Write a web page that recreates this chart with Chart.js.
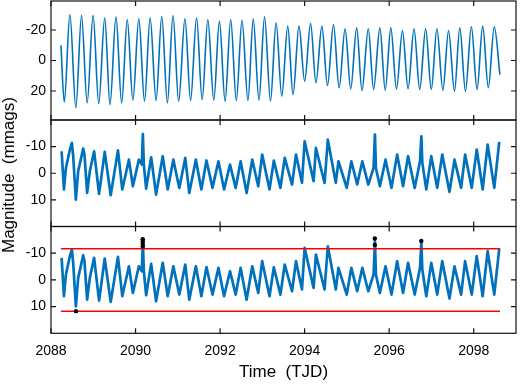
<!DOCTYPE html>
<html><head><meta charset="utf-8">
<script src="https://cdn.jsdelivr.net/npm/chart.js@4"></script>
<style>
html,body{margin:0;padding:0;background:#fff;}
#wrap{position:relative;width:520px;height:385px;overflow:hidden;background:#fff;}
canvas{position:absolute;left:0;top:0;}
#ylab{position:absolute;left:9px;top:175px;transform:translate(-50%,-50%) rotate(-90deg);font:17px "Liberation Sans",Arial,sans-serif;white-space:pre;color:#000;}
</style></head><body>
<div id="wrap">
<canvas id="c1" width="520" height="385"></canvas>
<canvas id="c2" width="520" height="385"></canvas>
<canvas id="c3" width="520" height="385"></canvas>
<div id="ylab">Magnitude  (mmags)</div>
</div>
<script>
// ---- data ----
const xRange = [2088, 2099];
const xTicks = [2088, 2090, 2092, 2094, 2096, 2098];

const rawYRange = [-39, 39];
const rawYTicks = [-20, 0, 20];
const detYRange = [-20, 20];
const detYTicks = [-10, 0, 10];

// panel 1: raw light curve (extremes of each cycle)
const rawTime = [2088.235,2088.314,2088.447,2088.588,2088.722,2088.855,2088.996,2089.129,2089.271,2089.396,2089.537,2089.671,2089.804,2089.937,2090.078,2090.212,2090.345,2090.486,2090.620,2090.753,2090.886,2091.020,2091.169,2091.302,2091.443,2091.576,2091.710,2091.851,2091.984,2092.118,2092.251,2092.384,2092.518,2092.659,2092.784,2092.920,2093.051,2093.192,2093.325,2093.459,2093.600,2093.725,2093.867,2094.000,2094.141,2094.267,2094.408,2094.541,2094.682,2094.816,2094.957,2095.090,2095.231,2095.357,2095.506,2095.631,2095.780,2095.906,2096.039,2096.173,2096.314,2096.447,2096.588,2096.722,2096.863,2096.996,2097.129,2097.271,2097.404,2097.545,2097.671,2097.804,2097.945,2098.078,2098.212,2098.345,2098.486,2098.620];
const rawMag = [-10,27.3,-30.2,31,-29.7,27.8,-29.7,28.2,-28,28.9,-28.6,27.8,-26.9,26,-27.5,26.7,-28,26.2,-29,27.8,-29.5,26.7,-27.5,26.2,-28,25.6,-26.9,26,-25.8,26.7,-26.9,26.2,-26.4,26.2,-27.3,26,-28.6,26.7,-24.7,23.4,-22.5,22.3,-22.5,13.6,-24.3,14.6,-22.5,16.4,-23.6,17.9,-20.8,18.6,-21.4,19.7,-20.8,19,-21.4,19.5,-21.4,18.6,-19.7,18.6,-20.8,19,-20.8,19,-20.8,19.5,-19.7,20.1,-21.4,20.1,-22.1,19,-22.5,17.9,-22.1,9.2];

// panels 2 and 3: detrended light curve
const detTime = [2088.251,2088.306,2088.353,2088.447,2088.494,2088.525,2088.588,2088.643,2088.761,2088.792,2088.855,2088.918,2089.020,2089.137,2089.271,2089.412,2089.584,2089.686,2089.843,2089.937,2090.078,2090.149,2090.173,2090.196,2090.251,2090.369,2090.486,2090.643,2090.761,2090.894,2091.035,2091.176,2091.271,2091.427,2091.557,2091.678,2091.820,2091.961,2092.094,2092.235,2092.369,2092.486,2092.627,2092.761,2092.902,2092.996,2093.169,2093.271,2093.427,2093.529,2093.702,2093.796,2093.937,2094.000,2094.212,2094.267,2094.471,2094.549,2094.737,2094.800,2094.996,2095.105,2095.243,2095.365,2095.506,2095.631,2095.663,2095.686,2095.780,2095.914,2096.055,2096.188,2096.329,2096.447,2096.604,2096.729,2096.761,2096.784,2096.878,2096.996,2097.137,2097.255,2097.427,2097.545,2097.702,2097.796,2097.953,2098.071,2098.212,2098.329,2098.486,2098.604];
const detMag = [-8.25,6.1,-2,-8.9,-11.4,-6.4,9.9,-0.75,-9.25,-7,7.4,-0.75,-8.25,7.75,-8,8.25,-8.6,6.1,-5.1,4.9,-5.1,-3.25,-14.75,-3.25,5.75,-6,8,-6.4,6.1,-5.1,5.5,-5.75,7.4,-5.1,6.1,-4.8,5.5,-4.5,6.1,-3.25,5.5,-4.5,7.4,-5.1,4.9,-7,6.1,-4.75,5.5,-5.75,4.25,-7,3.6,-12,3,-9.5,3.6,-12.6,3.6,-4.5,5.5,-4.5,4.2,-4.5,4.25,-2,-14.5,-2,4.9,-5.1,5.5,-7,4.9,-6.4,5.5,-4.5,-13.9,-3.9,6.1,-6.4,5.5,-7,7,-5.1,5.5,-7,5.5,-8.9,6.1,-10.75,5.5,-11.75];

// panel 3: flagged outliers and clipping thresholds
const outlierTime = [2088.59,2090.17,2090.17,2090.17,2090.17,2095.66,2095.66,2096.76];
const outlierMag = [11.7,-12.6,-13.5,-14.4,-15.2,-13.1,-15.5,-14.6];
const thresholdTime = [2088.235, 2098.62];
const thresholdUpper = [-11.7, -11.7];
const thresholdLower = [11.7, 11.7];

// ---- drawing ----
const FAMILY = '"Liberation Sans", Arial, Helvetica, sans-serif';
const BLUE = '#0072BD';
const pts = (t, m) => t.map((v, i) => ({x: v, y: m[i]}));

const frame = {
  id: 'frame',
  afterDatasetsDraw(chart) {
    const {ctx, chartArea: a, scales: {x, y}} = chart;
    ctx.save();
    ctx.strokeStyle = '#111';
    ctx.lineWidth = 1.2;
    ctx.strokeRect(a.left, a.top, a.right - a.left, a.bottom - a.top);
    ctx.beginPath();
    xTicks.forEach(v => {
      const px = x.getPixelForValue(v);
      ctx.moveTo(px, a.top); ctx.lineTo(px, a.top + 5);
      ctx.moveTo(px, a.bottom); ctx.lineTo(px, a.bottom - 5);
    });
    y.ticks.forEach(t => {
      const py = y.getPixelForValue(t.value);
      ctx.moveTo(a.left, py); ctx.lineTo(a.left + 5, py);
      ctx.moveTo(a.right, py); ctx.lineTo(a.right - 5, py);
    });
    ctx.stroke();
    ctx.restore();
  }
};

function makeChart(id, datasets, yRange, yTicks, area, showX) {
  return new Chart(document.getElementById(id), {
    type: 'line',
    data: {datasets},
    plugins: [frame],
    options: {
      responsive: false, animation: false, devicePixelRatio: 1,
      layout: {padding: {left: 0, right: 520 - area.right, top: area.top, bottom: showX ? 0 : 385 - area.bottom}},
      plugins: {legend: {display: false}, tooltip: {enabled: false}},
      elements: {point: {radius: 0}},
      scales: {
        x: {
          type: 'linear', min: xRange[0], max: xRange[1], display: showX,
          grid: {display: false, drawTicks: false}, border: {display: false},
          afterBuildTicks: s => { s.ticks = xTicks.map(v => ({value: v})); },
          ticks: {color: '#000', font: {family: FAMILY, size: 14}, padding: 9, maxRotation: 0, autoSkip: false, callback: v => String(v)},
          title: {display: showX, text: 'Time  (TJD)', color: '#000', font: {family: FAMILY, size: 17}, padding: {top: 0, bottom: 2}},
          afterFit: s => { s.paddingLeft = 0; s.paddingRight = 0; if (showX) s.height = 385 - area.bottom; }
        },
        y: {
          type: 'linear', reverse: true, min: yRange[0], max: yRange[1],
          grid: {display: false, drawTicks: false}, border: {display: false},
          afterBuildTicks: s => { s.ticks = yTicks.map(v => ({value: v})); },
          ticks: {color: '#000', font: {family: FAMILY, size: 14}, padding: 5, callback: v => String(v)},
          afterFit: s => { s.width = area.left; s.paddingTop = 0; s.paddingBottom = 0; }
        }
      }
    }
  });
}

const L = 51, R = 516;
makeChart('c1', [
  {data: pts(rawTime, rawMag), borderColor: BLUE, borderWidth: 1.6, cubicInterpolationMode: 'monotone', pointRadius: 0}
], rawYRange, rawYTicks, {left: L, right: R, top: 1, bottom: 120}, false);

makeChart('c2', [
  {data: pts(detTime, detMag), borderColor: BLUE, borderWidth: 2.7, borderJoinStyle: 'round', pointRadius: 0}
], detYRange, detYTicks, {left: L, right: R, top: 120, bottom: 226.5}, false);

makeChart('c3', [
  {data: pts(outlierTime, outlierMag), showLine: false, pointRadius: 2.2, pointBackgroundColor: '#000', pointBorderColor: '#000', borderWidth: 0},
  {data: pts(thresholdTime, thresholdUpper), borderColor: '#FF0000', borderWidth: 1.5, pointRadius: 0},
  {data: pts(thresholdTime, thresholdLower), borderColor: '#FF0000', borderWidth: 1.5, pointRadius: 0},
  {data: pts(detTime, detMag), borderColor: BLUE, borderWidth: 2.7, borderJoinStyle: 'round', pointRadius: 0}
], detYRange, detYTicks, {left: L, right: R, top: 226.5, bottom: 333.3}, true);
</script>
</body></html>
